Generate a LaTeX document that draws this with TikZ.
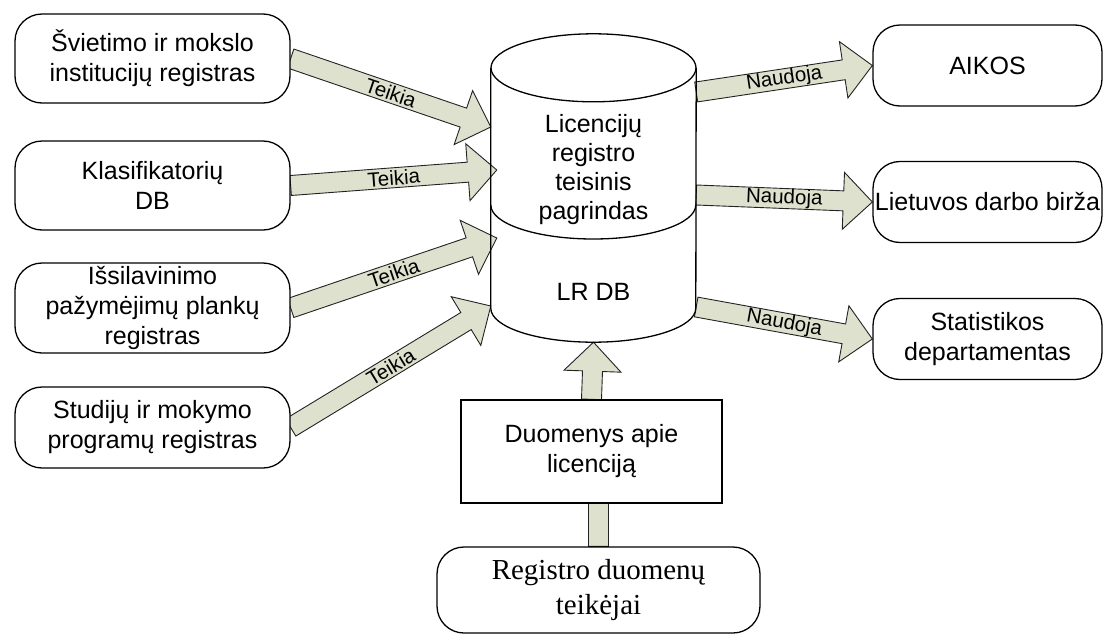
\documentclass[tikz,border=0pt]{standalone}
\usepackage{fontspec}
\setmainfont{Liberation Sans}
\newfontfamily\timesFont{Liberation Serif}
\usepackage{tikz}
\usetikzlibrary{calc}
\pgfdeclarelayer{background}
\pgfsetlayers{background,main}
\definecolor{arrowFill}{RGB}{221,225,205}
\definecolor{lineGray}{RGB}{35,35,35}
\tikzset{
     mainNode/.style =
        { rectangle
        , rounded corners=27pt
        , draw
        , line width=1.3pt
        , fill=white
        , align=center
        , inner sep=0pt
        , minimum width=275pt
        , font=\fontsize{25}{30}\selectfont
        %, fill=blue!20,
        }
   , useNode/.style =
        { mainNode
        , minimum width=229pt
        , minimum height=81pt
        }
   , dataNode/.style =
        { mainNode
        , sharp corners
        , minimum width=261pt
        , minimum height=103pt
        }
   , arrowShape/.style =
        { draw=lineGray
        , fill=arrowFill
        , line width=0.9pt
        , line join=miter
        }
   , arrowLabel/.style =
        { font=\fontsize{20.5}{23}\selectfont
        , inner sep=0pt
        }
}
% wide arrow: from, to, label
\newcommand{\blockArrow}[3]{%
  \begin{pgfonlayer}{background}
    \coordinate (neck) at ($(#2)!29pt!(#1)$);
    \path[arrowShape]
      ($(#1)!10pt!90:(#2)$) -- ($(neck)!10pt!-90:(#1)$) -- ($(neck)!28.5pt!-90:(#1)$)
      -- (#2) -- ($(neck)!28.5pt!90:(#1)$) -- ($(neck)!10pt!90:(#1)$)
      -- ($(#1)!10pt!-90:(#2)$) -- cycle;
  \end{pgfonlayer}
  \path (#1) -- node[arrowLabel, sloped] {#3} (#2);
}

\begin{document}
\begin{tikzpicture}
            [ x=1pt
            , y=-1pt
            ]
            \useasboundingbox (0,0) rectangle (1104,635);

            % sources
            \node[mainNode, minimum height=89pt] (1) at (152.5,58.5) {Švietimo ir mokslo\\institucijų registras};
            \node[mainNode, minimum height=89pt] (2) at (152.5,185.5) {Klasifikatorių\\DB};
            \node[mainNode, minimum height=90pt] (3) at (152.5,308) {Išsilavinimo\\pažymėjimų plankų\\registras};
            \node[mainNode, minimum height=81pt] (4) at (152.5,427.5) {Studijų ir mokymo\\programų registras};

            % users
            \node[useNode] (5) at (987.5,65.5) {AIKOS};
            \node[useNode] (6) at (987.5,202) {Lietuvos darbo birža};
            \node[useNode] (7) at (987.5,339) {Statistikos\\departamentas};

            \node[dataNode] (8) at (591.5,451.5) {Duomenys apie\\licenciją};
            \node[mainNode, minimum width=323pt, minimum height=86pt,
                  font=\timesFont\fontsize{29}{35}\selectfont] (9) at (598.5,590) {Registro duomenų\\teikėjai};

            % database
            \node[rectangle, inner sep=0pt, minimum width=205pt, minimum height=240pt] (db) at (593.5,188) {};
            \draw[line width=1.3pt] (db.north west) -- (db.south west)
                arc[start angle=180, end angle=360, x radius=102.5pt, y radius=34pt] -- (db.north east);
            \draw[line width=1.3pt] (db.north) ellipse[x radius=102.5pt, y radius=34pt];
            \draw[line width=1.3pt] ($(db.west)+(0,17)$)
                arc[start angle=180, end angle=360, x radius=102.5pt, y radius=34pt];
            \node[align=center, font=\fontsize{25}{29}\selectfont] (dbTop) at (593.5,170) {Licencijų\\registro\\teisinis\\pagrindas};
            \node[font=\fontsize{25}{29}\selectfont] (dbLow) at (593.5,292) {LR DB};

            \coordinate (in1) at ($(db.west)+(0,-61)$);
            \coordinate (in2) at ($(db.west)+(6,-18)$);
            \coordinate (in3) at ($(db.west)+(6,50)$);
            \coordinate (in4) at ($(db.west)+(0,118)$);
            \coordinate (out1) at ($(db.east)+(0,-96)$);
            \coordinate (out2) at ($(db.east)+(0,7)$);
            \coordinate (out3) at ($(db.east)+(0,119)$);
            \coordinate (dbBottom) at ($(db.south)+(0,34)$);
            \coordinate (8in) at (9.north |- 8.center);

            \blockArrow{1.east}{in1}{Teikia}
            \blockArrow{2.east}{in2}{Teikia}
            \blockArrow{3.east}{in3}{Teikia}
            \blockArrow{4.east}{in4}{Teikia}

            \blockArrow{out1}{5.west}{Naudoja}
            \blockArrow{out2}{6.west}{Naudoja}
            \blockArrow{out3}{7.west}{Naudoja}

            \blockArrow{9.north}{8in}{}
            \blockArrow{8.north}{dbBottom}{}
\end{tikzpicture}
\end{document}
